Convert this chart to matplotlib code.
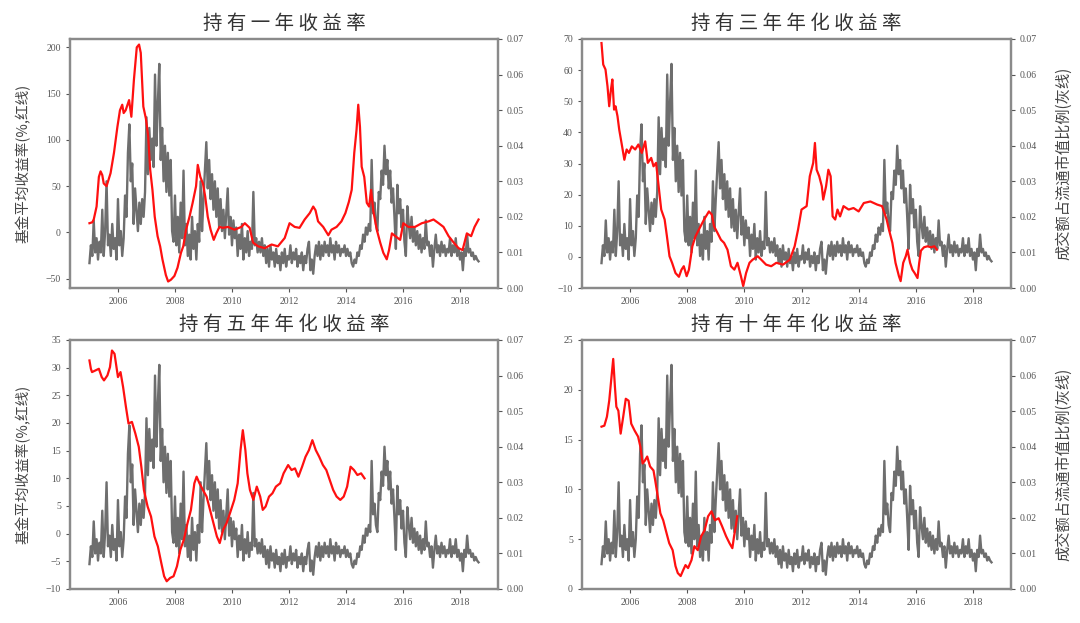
import numpy as np
import matplotlib
matplotlib.use("Agg")
import matplotlib.pyplot as plt

plt.rcParams['font.family'] = ['Noto Sans CJK SC', 'DejaVu Sans']

# ---------------- data ----------------
titles = ["持有一年收益率", "持有三年年化收益率", "持有五年年化收益率", "持有十年年化收益率"]
left_label = "基金平均收益率(%,红线)"
right_label = "成交额占流通市值比例(灰线)"
xtick_years = [2006, 2008, 2010, 2012, 2014, 2016, 2018]

# turnover / float market cap (grey line), units of 0.001, ~20 obs per year from 2005.0
gray_milli = [
    7, 12, 9, 19, 10, 14, 8, 13, 10, 22, 9, 16, 30, 12, 15, 9, 18, 11, 14, 8,
    25, 12, 16, 9, 14, 26, 20, 38, 46, 30, 35, 18, 28, 22, 16, 24, 18, 25, 20, 27,
    48, 32, 45, 36, 42, 34, 60, 40, 52, 63, 36, 45, 30, 40, 27, 38, 26, 36, 16, 13,
    26, 12, 20, 10, 24, 14, 33, 12, 18, 9, 15, 8, 20, 11, 16, 8, 18, 13, 30, 16,
    25, 33, 41, 28, 36, 25, 32, 22, 30, 20, 28, 17, 25, 16, 22, 14, 21, 28, 15, 20,
    12, 19, 14, 17, 9, 15, 11, 18, 8, 14, 10, 16, 9, 13, 11, 27, 12, 14, 10, 13,
    10, 14, 9, 12, 7, 11, 6, 12, 8, 10, 6, 11, 7, 9, 5, 10, 7, 11, 6, 9,
    8, 12, 7, 10, 8, 11, 6, 9, 7, 10, 5, 9, 7, 11, 13, 5, 8, 4, 9, 12,
    9, 13, 8, 12, 9, 13, 10, 12, 9, 14, 10, 12, 8, 13, 10, 12, 9, 11, 10, 12,
    9, 11, 9, 10, 7, 6, 8, 7, 10, 9, 12, 11, 15, 13, 17, 15, 18, 16, 36, 21,
    24, 18, 16, 27, 25, 33, 29, 40, 32, 36, 28, 33, 24, 28, 20, 11, 29, 21, 25, 17,
    22, 13, 9, 23, 18, 14, 20, 13, 17, 12, 16, 11, 15, 10, 14, 11, 19, 12, 13, 9,
    12, 6, 11, 15, 10, 12, 9, 13, 10, 12, 9, 11, 10, 14, 9, 12, 10, 14, 9, 11,
    8, 10, 5, 11, 9, 15, 10, 11, 9, 10, 8, 9, 8, 7.5,
]
gray_start, gray_end = 2005.0, 2018.65

# 1-year holding return (%)
r1_year = [2005.0, 2005.1, 2005.15, 2005.25, 2005.33, 2005.39, 2005.45, 2005.5, 2005.6, 2005.74,
           2005.86, 2005.98, 2006.07, 2006.15, 2006.2, 2006.27, 2006.39, 2006.47, 2006.56, 2006.66,
           2006.74, 2006.8, 2006.89, 2006.98, 2007.06, 2007.13, 2007.21, 2007.29, 2007.39, 2007.48,
           2007.56, 2007.68, 2007.76, 2007.86, 2007.98, 2008.09, 2008.21, 2008.29, 2008.39, 2008.51,
           2008.62, 2008.74, 2008.8, 2008.89, 2008.98, 2009.06, 2009.15, 2009.25, 2009.36, 2009.45,
           2009.56, 2009.68, 2009.86, 2010.09, 2010.33, 2010.45, 2010.62, 2010.74, 2010.92, 2011.15,
           2011.39, 2011.61, 2011.85, 2012.02, 2012.2, 2012.37, 2012.55, 2012.73, 2012.85, 2012.93,
           2013.02, 2013.2, 2013.38, 2013.49, 2013.67, 2013.84, 2013.98, 2014.1, 2014.2, 2014.29,
           2014.37, 2014.43, 2014.49, 2014.55, 2014.64, 2014.73, 2014.81, 2014.88, 2014.96, 2015.08,
           2015.2, 2015.31, 2015.43, 2015.51, 2015.61, 2015.73, 2015.9, 2016.01, 2016.19, 2016.42,
           2016.66, 2016.9, 2017.07, 2017.25, 2017.42, 2017.6, 2017.78, 2017.95, 2018.09, 2018.24,
           2018.39, 2018.51, 2018.65]
r1_val = [10, 11, 14, 28, 60, 66, 62, 53, 50, 64,
          86, 114, 132, 138, 129, 132, 143, 125, 165, 200,
          203, 194, 136, 123, 104, 68, 46, 17, -4, -15,
          -29, -46, -53, -51, -47, -38, -22, -15, 3, 17,
          32, 50, 73, 60, 53, 39, 17, 3, -8, -1,
          6, 5, 6, 3, 6, 10, 5, -11, -15, -17,
          -13, -15, -6, 10, 6, 5, 14, 21, 28, 24,
          12, 6, -3, 3, 6, 12, 21, 33, 46, 86,
          111, 138, 114, 71, 60, 32, 28, 46, 23, 3,
          -11, -22, -29, -19, -1, -4, -8, 10, 6, 6,
          10, 12, 14, 10, 6, -4, -11, -17, -19, -1,
          -4, 6, 14]

# 3-year annualised return (%)
r3_year = [2005.0, 2005.06, 2005.14, 2005.21, 2005.27, 2005.33, 2005.38, 2005.44, 2005.49, 2005.56,
           2005.62, 2005.71, 2005.8, 2005.88, 2005.96, 2006.06, 2006.18, 2006.29, 2006.41, 2006.53,
           2006.62, 2006.74, 2006.82, 2006.91, 2007.0, 2007.09, 2007.21, 2007.29, 2007.38, 2007.47,
           2007.59, 2007.71, 2007.8, 2007.88, 2007.98, 2008.06, 2008.18, 2008.29, 2008.41, 2008.59,
           2008.76, 2008.86, 2008.94, 2009.06, 2009.18, 2009.29, 2009.41, 2009.53, 2009.65, 2009.76,
           2009.88, 2009.96, 2010.06, 2010.18, 2010.29, 2010.47, 2010.59, 2010.76, 2010.94, 2011.12,
           2011.35, 2011.59, 2011.76, 2011.88, 2012.0, 2012.18, 2012.29, 2012.41, 2012.47, 2012.53,
           2012.62, 2012.71, 2012.76, 2012.86, 2012.94, 2013.02, 2013.09, 2013.18, 2013.26, 2013.35,
           2013.47, 2013.65, 2013.82, 2014.0, 2014.18, 2014.41, 2014.65, 2014.82, 2014.98, 2015.06,
           2015.18, 2015.29, 2015.41, 2015.47, 2015.56, 2015.65, 2015.71, 2015.8, 2015.88, 2015.96,
           2016.06, 2016.12, 2016.18, 2016.29, 2016.41, 2016.53, 2016.65, 2016.74]
r3_val = [68.7, 61.8, 60.2, 54.8, 48.4, 53.7, 57.0, 47.3, 48.4, 45.2,
          40.9, 36.1, 31.2, 34.5, 33.4, 35.5, 34.5, 36.1, 33.4, 37.1,
          30.2, 31.8, 29.1, 30.2, 22.7, 15.2, 12.0, 6.6, 0.2, -1.9,
          -5.2, -6.4, -4.1, -3.0, -6.2, -4.1, 3.4, 6.6, 8.8, 12.0,
          14.6, 13.6, 9.8, 7.7, 5.5, 4.5, 2.3, -3.0, -4.1, -1.9,
          -6.2, -9.4, -5.2, -1.9, -0.9, 0.2, -0.9, -2.5, -3.0, -1.9,
          -2.5, -0.9, 3.4, 8.8, 15.2, 16.3, 25.9, 30.2, 36.6, 28.0,
          25.9, 22.7, 18.4, 22.7, 28.0, 25.9, 13.0, 12.0, 15.2, 13.0,
          16.3, 15.2, 15.7, 14.6, 17.3, 17.8, 16.8, 16.3, 12.0, 8.8,
          4.5, -1.9, -6.2, -7.8, -1.9, 0.2, 2.3, -1.9, -4.1, -5.2,
          -6.8, -1.9, 2.0, 3.1, 3.4, 3.1, 3.4, 2.3]

# 5-year annualised return (%)
r5_year = [2005.0, 2005.05, 2005.09, 2005.21, 2005.33, 2005.43, 2005.51, 2005.63, 2005.72, 2005.79,
           2005.88, 2006.0, 2006.09, 2006.18, 2006.28, 2006.37, 2006.49, 2006.61, 2006.73, 2006.82,
           2006.91, 2007.04, 2007.16, 2007.28, 2007.4, 2007.52, 2007.62, 2007.71, 2007.83, 2007.95,
           2008.07, 2008.19, 2008.31, 2008.44, 2008.56, 2008.68, 2008.76, 2008.86, 2008.98, 2009.11,
           2009.23, 2009.35, 2009.47, 2009.57, 2009.69, 2009.81, 2009.93, 2010.08, 2010.2, 2010.3,
           2010.38, 2010.47, 2010.54, 2010.63, 2010.75, 2010.87, 2010.99, 2011.08, 2011.18, 2011.3,
           2011.42, 2011.54, 2011.69, 2011.81, 2011.97, 2012.09, 2012.21, 2012.33, 2012.46, 2012.58,
           2012.7, 2012.82, 2012.94, 2013.06, 2013.19, 2013.31, 2013.43, 2013.55, 2013.67, 2013.8,
           2013.92, 2014.04, 2014.16, 2014.28, 2014.4, 2014.53, 2014.65]
r5_val = [31.3, 29.8, 29.2, 29.5, 29.8, 28.3, 27.7, 28.6, 30.1, 33.1,
          32.5, 28.3, 29.2, 26.5, 22.9, 19.9, 20.2, 18.1, 15.7, 12.1,
          7.9, 4.9, 3.1, -0.5, -2.3, -5.3, -7.7, -8.6, -8.0, -7.7,
          -5.9, -2.9, -1.1, 1.9, 4.3, 9.1, 10.3, 9.1, 7.9, 6.7,
          4.3, 1.9, -0.5, -1.7, 0.7, 1.9, 3.7, 6.1, 9.1, 15.1,
          18.7, 15.1, 10.9, 7.9, 6.1, 8.5, 6.7, 4.3, 4.9, 6.7,
          7.3, 8.5, 9.1, 10.9, 12.4, 11.5, 11.8, 10.3, 12.1, 13.9,
          15.1, 16.9, 15.1, 13.9, 12.4, 11.5, 9.7, 7.9, 6.7, 6.1,
          6.7, 8.5, 12.1, 11.5, 10.6, 10.9, 10.0]

# 10-year annualised return (%)
r10_year = [2005.0, 2005.1, 2005.19, 2005.27, 2005.35, 2005.41, 2005.47, 2005.52, 2005.59, 2005.67,
            2005.76, 2005.85, 2005.95, 2006.04, 2006.16, 2006.28, 2006.36, 2006.44, 2006.52, 2006.6,
            2006.7, 2006.82, 2006.88, 2006.97, 2007.06, 2007.16, 2007.25, 2007.37, 2007.49, 2007.59,
            2007.67, 2007.77, 2007.86, 2007.94, 2008.03, 2008.15, 2008.25, 2008.37, 2008.49, 2008.61,
            2008.73, 2008.85, 2008.97, 2009.1, 2009.22, 2009.36, 2009.48, 2009.58, 2009.64, 2009.7,
            2009.75]
r10_val = [16.3, 16.4, 17.3, 18.9, 21.3, 23.1, 20.3, 18.3, 17.9, 15.6,
           17.3, 19.1, 18.9, 16.6, 15.9, 15.3, 14.3, 12.6, 12.9, 13.3,
           12.3, 11.9, 10.9, 9.3, 7.6, 6.9, 5.9, 4.6, 3.9, 2.3,
           1.6, 1.3, 1.9, 2.4, 2.1, 2.9, 4.3, 3.9, 5.3, 5.9,
           7.3, 7.8, 6.9, 7.1, 6.3, 5.3, 4.6, 4.1, 5.3, 6.3,
           7.3]

red_years = [r1_year, r3_year, r5_year, r10_year]
red_vals = [r1_val, r3_val, r5_val, r10_val]
left_lims = [(-60, 209), (-10, 70), (-10, 35), (0, 25)]
left_ticks = [list(range(-50, 201, 50)), list(range(-10, 71, 10)),
              list(range(-10, 36, 5)), list(range(0, 26, 5))]
right_ticks = [0.00, 0.01, 0.02, 0.03, 0.04, 0.05, 0.06, 0.07]

# ---------------- plotting ----------------
gray = np.array(gray_milli) / 1000.0
gray_x = np.linspace(gray_start, gray_end, len(gray))

fig = plt.figure(figsize=(10.8, 6.23), dpi=100)
W, H = 1080.0, 623.0
boxes = [(70, 39, 498, 288), (582, 39, 1011, 288),
         (70, 340, 498, 589), (582, 340, 1011, 589)]

spine_c = '#8a8a8a'
tick_c = '#555555'
serif = 'Liberation Serif'

for i in range(4):
    x0, y0, x1, y1 = boxes[i]
    ax = fig.add_axes([x0 / W, 1 - y1 / H, (x1 - x0) / W, (y1 - y0) / H])
    ax2 = ax.twinx()
    ax2.plot(gray_x, gray, color='#6e6e6e', lw=1.7)
    ax.plot(red_years[i], red_vals[i], color='#ff1010', lw=1.6)
    ax.set_zorder(ax2.get_zorder() + 1)
    ax.patch.set_visible(False)

    ax.set_ylim(*left_lims[i])
    ax.set_yticks(left_ticks[i])
    ax2.set_ylim(0, 0.07)
    ax2.set_yticks(right_ticks)
    ax2.set_yticklabels([f"{v:.2f}" for v in right_ticks])
    ax.set_xticks(xtick_years)
    ax.set_xticklabels([str(y) for y in xtick_years])
    ax.margins(x=0.05)

    for a in (ax, ax2):
        for s in a.spines.values():
            s.set_color(spine_c)
            s.set_linewidth(1.6)
        a.tick_params(colors=tick_c, labelsize=7, length=3, width=0.8)
        for lab in a.get_xticklabels() + a.get_yticklabels():
            lab.set_fontfamily(serif)

    t = " ".join(titles[i])
    ax.set_title(t, fontsize=14, color='#333333', pad=7)
    if i in (0, 2):
        ax.set_ylabel(left_label, fontsize=10.5, color='#444444', labelpad=11)
    else:
        ax2.set_ylabel(right_label, fontsize=11, color='#444444', labelpad=13)

fig.savefig("out.png", dpi=100)
